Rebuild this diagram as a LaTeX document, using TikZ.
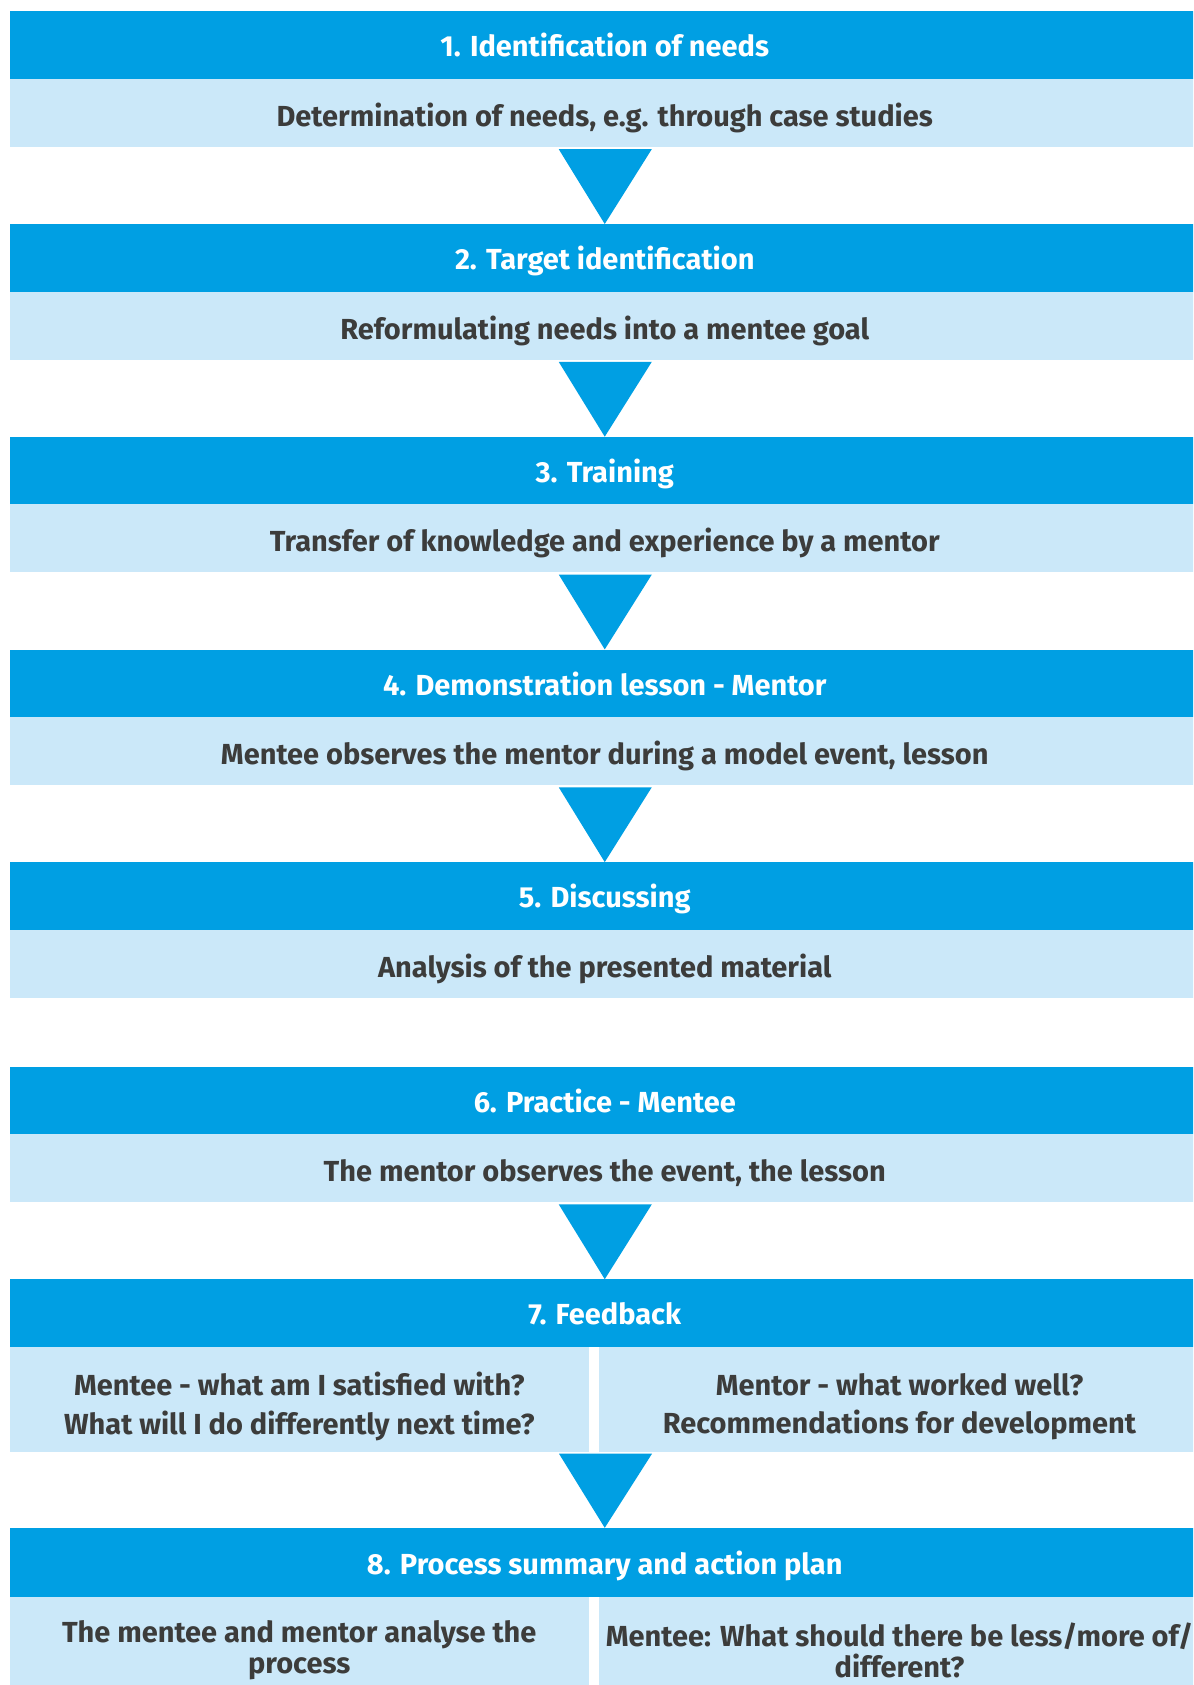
\documentclass[tikz,border=0pt]{standalone}
\usepackage{fontspec}
\setmainfont{Fira Sans}
\definecolor{hblue}{HTML}{009FE3}
\definecolor{lblue}{HTML}{CBE8F9}
\definecolor{tgray}{HTML}{3C3C3B}
\begin{document}
\begin{tikzpicture}[x=1pt,y=-1pt,
  hdr/.style={rectangle, fill=hblue, text=white, inner sep=0pt, text height=29.5pt, text depth=6pt, minimum width=1190.5pt, minimum height=67.5pt, font=\fontsize{29}{34}\selectfont\bfseries},
  lgt/.style={rectangle, fill=lblue, text=tgray, inner sep=0pt, text height=32.6pt, text depth=6pt, minimum width=1190.5pt, minimum height=68pt, font=\fontsize{29}{34}\selectfont\bfseries},
  halftext/.style={text=tgray, align=center, inner sep=0pt, font=\fontsize{29}{31}\selectfont\bfseries},
  tri/.style={fill=hblue}]
\useasboundingbox (0,0) rectangle (1193,1685);
\clip (0,0) rectangle (1193,1685);
\fill[white] (0,0) rectangle (1193,1685);
% boxes 1-5
\node[hdr] (h1) at (604.75,45.25) {1. Identification of needs};
\node[lgt] (l1) at (604.75,113) {Determination of needs, e.g. through case studies};
\node[hdr] (h2) at (604.75,257.95) {2. Target identification};
\node[lgt] (l2) at (604.75,325.7) {Reformulating needs into a mentee goal};
\node[hdr] (h3) at (604.75,470.65) {3. Training};
\node[lgt] (l3) at (604.75,538.4) {Transfer of knowledge and experience by a mentor};
\node[hdr] (h4) at (604.75,683.35) {4. Demonstration lesson - Mentor};
\node[lgt] (l4) at (604.75,751.1) {Mentee observes the mentor during a model event, lesson};
\node[hdr] (h5) at (604.75,896.05) {5. Discussing};
\node[lgt] (l5) at (604.75,963.8) {Analysis of the presented material};
% box 6
\node[hdr] (h6) at (604.75,1100.45) {6. Practice - Mentee};
\node[lgt] (l6) at (604.75,1168.2) {The mentor observes the event, the lesson};
% box 7
\node[hdr, minimum height=67.3pt] (h7) at (604.75,1313.05) {7. Feedback};
\path[fill=lblue] (9.5,1346.7) rectangle (589,1451.7);
\path[fill=lblue] (599,1346.7) rectangle (1200,1451.7);
\node[halftext, font=\fontsize{29}{38.5}\selectfont\bfseries] (l7a) at (299.25,1406.5) {Mentee - what am I satisfied with?\\What will I do differently next time?};
\node[halftext, font=\fontsize{29}{38.5}\selectfont\bfseries] (l7b) at (899.5,1406.5) {Mentor - what worked well?\\Recommendations for development};
% box 8
\node[hdr, minimum height=68.5pt] (h8) at (604.75,1562.25) {8. Process summary and action plan};
\path[fill=lblue] (9.5,1596.5) rectangle (589,1700);
\path[fill=lblue] (599,1596.5) rectangle (1200,1700);
\node[halftext] (l8a) at (299.25,1650) {The mentee and mentor analyse the\\process};
\node[halftext] (l8b) at (899.5,1650) {Mentee: What should there be less/more of/\\different?};
% triangles
\fill[tri] ([xshift=-46pt,yshift=-2pt]l1.south) -- ([xshift=47pt,yshift=-2pt]l1.south) -- (h2.north) -- cycle;
\fill[tri] ([xshift=-46pt,yshift=-2pt]l2.south) -- ([xshift=47pt,yshift=-2pt]l2.south) -- (h3.north) -- cycle;
\fill[tri] ([xshift=-46pt,yshift=-2pt]l3.south) -- ([xshift=47pt,yshift=-2pt]l3.south) -- (h4.north) -- cycle;
\fill[tri] ([xshift=-46pt,yshift=-2pt]l4.south) -- ([xshift=47pt,yshift=-2pt]l4.south) -- (h5.north) -- cycle;
\fill[tri] ([xshift=-46pt,yshift=-2pt]l6.south) -- ([xshift=47pt,yshift=-2pt]l6.south) -- (h7.north) -- cycle;
\coordinate (t7) at (605.5,1453.7);
\fill[tri] ([xshift=-46.5pt]t7) -- ([xshift=46.5pt]t7) -- (h8.north) -- cycle;
\end{tikzpicture}
\end{document}
